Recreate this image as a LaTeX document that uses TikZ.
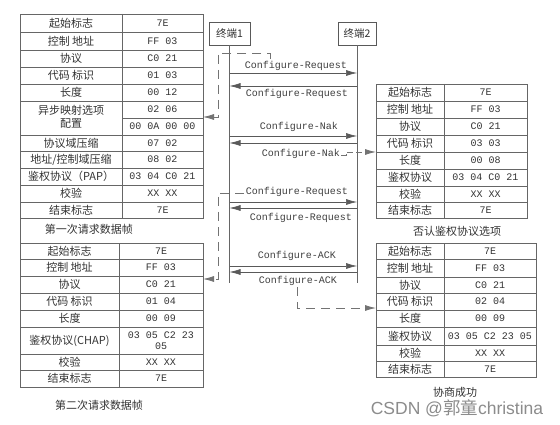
\documentclass[tikz,border=0pt]{standalone}
\usepackage{fontspec}
\usetikzlibrary{arrows.meta}
\newfontfamily\cjk{Noto Sans CJK SC}
\newfontfamily\mono{Liberation Mono}
\newfontfamily\wmfont{Liberation Sans}
\begin{document}
\begin{tikzpicture}[x=1pt,y=-1pt,
  tbl/.style={draw=black!60, line width=0.6pt},
  cn/.style={font=\cjk\fontsize{11}{12.5}\selectfont, text=black!80, inner sep=0pt, align=center},
  hx/.style={font=\mono\fontsize{10}{11}\selectfont, text=black!80, inner sep=0pt, align=center},
  lab/.style={font=\mono\fontsize{10}{12}\selectfont, text=black!75, inner sep=0pt},
  msg/.style={draw=black!65, line width=0.6pt, -{Latex[length=11pt,width=6pt]}},
  dsh/.style={draw=black!55, line width=0.8pt, dash pattern=on 9pt off 6pt, -{Latex[length=11pt,width=6pt]}},
  term/.style={draw=black!65, line width=0.6pt, minimum height=23pt, font=\cjk\fontsize{10.5}{12}\selectfont, text=black!80, inner sep=0pt},
  life/.style={draw=black!60, line width=0.6pt}
]
\useasboundingbox (0,0) rectangle (560,425);
\fill[white] (0,0) rectangle (560,425);

% ---------- Table 1 ----------
\draw[tbl] (20,14) rectangle (203,218);
\foreach \yy in {32,50,67,84,101,135,151,168,185,202} \draw[tbl] (20,\yy) -- (203,\yy);
\draw[tbl] (122,118) -- (203,118);
\draw[tbl] (122,14) -- (122,218);
\draw[tbl] (20,218) -- (20,243);
\node[cn] (a1) at (71,23) {起始标志};      \node[hx] (b1) at (162.5,23) {7E};
\node[cn] (a2) at (71,41) {控制 地址};     \node[hx] (b2) at (162.5,41) {FF 03};
\node[cn] (a3) at (71,58.5) {协议};        \node[hx] (b3) at (162.5,58.5) {C0 21};
\node[cn] (a4) at (71,75.5) {代码 标识};   \node[hx] (b4) at (162.5,75.5) {01 03};
\node[cn] (a5) at (71,92.5) {长度};        \node[hx] (b5) at (162.5,92.5) {00 12};
\node[cn] (a6) at (71,117) {异步映射选项\\配置};
\node[hx] (b6) at (162.5,109.5) {02 06};   \node[hx] (b6b) at (162.5,126.5) {00 0A 00 00};
\node[cn] (a7) at (71,143) {协议域压缩};   \node[hx] (b7) at (162.5,143) {07 02};
\node[cn] (a8) at (71,159.5) {地址/控制域压缩}; \node[hx] (b8) at (162.5,159.5) {08 02};
\node[cn] (a9) at (71,176.5) {鉴权协议（PAP）}; \node[hx] (b9) at (162.5,176.5) {03 04 C0 21};
\node[cn] (a10) at (71,193.5) {校验};      \node[hx] (b10) at (162.5,193.5) {XX XX};
\node[cn] (a11) at (71,210) {结束标志};    \node[hx] (b11) at (162.5,210) {7E};
\node[cn] (cap1) at (89,229) {第一次请求数据帧};
\coordinate (t1in) at (203,117);

% ---------- Table 2 ----------
\draw[tbl] (20,243) rectangle (203,387);
\foreach \yy in {259,276,293,310,327,354,370} \draw[tbl] (20,\yy) -- (203,\yy);
\draw[tbl] (119,243) -- (119,387);
\node[cn] (c1) at (69.5,251) {起始标志};     \node[hx] (d1) at (161,251) {7E};
\node[cn] (c2) at (69.5,267.5) {控制 地址};  \node[hx] (d2) at (161,267.5) {FF 03};
\node[cn] (c3) at (69.5,284.5) {协议};       \node[hx] (d3) at (161,284.5) {C0 21};
\node[cn] (c4) at (69.5,301.5) {代码 标识};  \node[hx] (d4) at (161,301.5) {01 04};
\node[cn] (c5) at (69.5,318.5) {长度};       \node[hx] (d5) at (161,318.5) {00 09};
\node[cn] (c6) at (69.5,340.5) {鉴权协议(CHAP)}; \node[hx] (d6) at (161,340.5) {03 05 C2 23\\05};
\node[cn] (c7) at (69.5,362) {校验};         \node[hx] (d7) at (161,362) {XX XX};
\node[cn] (c8) at (69.5,378.5) {结束标志};   \node[hx] (d8) at (161,378.5) {7E};
\node[cn] (cap2) at (99,405) {第二次请求数据帧};
\coordinate (t2in) at (203,279);

% ---------- Table 3 ----------
\draw[tbl] (376,84) rectangle (527,218);
\foreach \yy in {101,118,135,152,169,186,202} \draw[tbl] (376,\yy) -- (527,\yy);
\draw[tbl] (444,84) -- (444,218);
\node[cn] (e1l) at (410,92.5) {起始标志};    \node[hx] (f1) at (485.5,92.5) {7E};
\node[cn] (e2l) at (410,109.5) {控制 地址};  \node[hx] (f2) at (485.5,109.5) {FF 03};
\node[cn] (e3l) at (410,126.5) {协议};       \node[hx] (f3) at (485.5,126.5) {C0 21};
\node[cn] (e4l) at (410,143.5) {代码 标识};  \node[hx] (f4) at (485.5,143.5) {03 03};
\node[cn] (e5l) at (410,160.5) {长度};       \node[hx] (f5) at (485.5,160.5) {00 08};
\node[cn] (e6l) at (410,177.5) {鉴权协议};   \node[hx] (f6) at (485.5,177.5) {03 04 C0 21};
\node[cn] (e7l) at (410,194) {校验};         \node[hx] (f7) at (485.5,194) {XX XX};
\node[cn] (e8l) at (410,210) {结束标志};     \node[hx] (f8) at (485.5,210) {7E};
\node[cn] (cap3) at (457,231) {否认鉴权协议选项};
\coordinate (t3in) at (376,152);

% ---------- Table 4 ----------
\draw[tbl] (376,243) rectangle (536,377);
\foreach \yy in {259,277,293,310,327,345,361} \draw[tbl] (376,\yy) -- (536,\yy);
\draw[tbl] (444,243) -- (444,377);
\node[cn] (g1) at (410,251) {起始标志};    \node[hx] (h1) at (490,251) {7E};
\node[cn] (g2) at (410,268) {控制 地址};   \node[hx] (h2) at (490,268) {FF 03};
\node[cn] (g3) at (410,285) {协议};        \node[hx] (h3) at (490,285) {C0 21};
\node[cn] (g4) at (410,301.5) {代码 标识}; \node[hx] (h4) at (490,301.5) {02 04};
\node[cn] (g5) at (410,318.5) {长度};      \node[hx] (h5) at (490,318.5) {00 09};
\node[cn] (g6) at (410,336) {鉴权协议};    \node[hx] (h6) at (490,336) {03 05 C2 23 05};
\node[cn] (g7) at (410,353) {校验};        \node[hx] (h7) at (490,353) {XX XX};
\node[cn] (g8) at (410,369) {结束标志};    \node[hx] (h8) at (490,369) {7E};
\node[cn] (cap4) at (455,392) {协商成功};
\coordinate (t4in) at (376,308);

% ---------- Terminals and lifelines ----------
\node[term, minimum width=41pt] (e1) at (229.5,33.5) {终端1};
\node[term, minimum width=38pt] (e2) at (357,33.5) {终端2};
\coordinate (e1b) at (229.5,283);
\coordinate (e2b) at (357,283);
\draw[life] (e1.south) -- (e1b);
\draw[life] (e2.south) -- (e2b);

% ---------- Messages ----------
\draw[msg] (e1.south |- 0,73)  -- (e2.south |- 0,73);
\draw[msg] (e2.south |- 0,86)  -- (e1.south |- 0,86);
\draw[msg] (e1.south |- 0,136) -- (e2.south |- 0,136);
\draw[msg] (e2.south |- 0,143) -- (e1.south |- 0,143);
\draw[msg] (e1.south |- 0,202) -- (e2.south |- 0,202);
\draw[msg] (e2.south |- 0,208) -- (e1.south |- 0,208);
\draw[msg] (e1.south |- 0,266) -- (e2.south |- 0,266);
\draw[msg] (e2.south |- 0,272) -- (e1.south |- 0,272);

\node[lab] (m1) at (296,66)  {Configure-Request};
\node[lab] (m2) at (297,94)  {Configure-Request};
\node[lab] (m3) at (299,127) {Configure-Nak};
\node[lab] (m4) at (301,154) {Configure-Nak};
\node[lab] (m5) at (297,192) {Configure-Request};
\node[lab] (m6) at (301,218) {Configure-Request};
\node[lab] (m7) at (297,256) {Configure-ACK};
\node[lab] (m8) at (298,281) {Configure-ACK};

% ---------- Dashed connectors ----------
\coordinate (dA) at (270,59);
\coordinate (dB) at (244,193);
\coordinate (dC) at (341,155);
\coordinate (dD) at (297,287);
\draw[dsh] (dA) -- (270,53) -- (218,53) -- (218,117) -- (t1in);
\draw[dsh] (dB) -- (218,193) -- (218,279) -- (t2in);
\draw[dsh, dash pattern=on 6pt off 3pt] (dC) -- (346,155) -- (346,152) -- (t3in);
\draw[dsh] (dD) -- (297,308) -- (t4in);

% ---------- Watermark ----------
\node[inner sep=0pt, text=black!45, font=\wmfont\fontsize{17.5}{20}\selectfont] (wm) at (457,408) {CSDN @{\cjk 郭童}christina};
\end{tikzpicture}
\end{document}
